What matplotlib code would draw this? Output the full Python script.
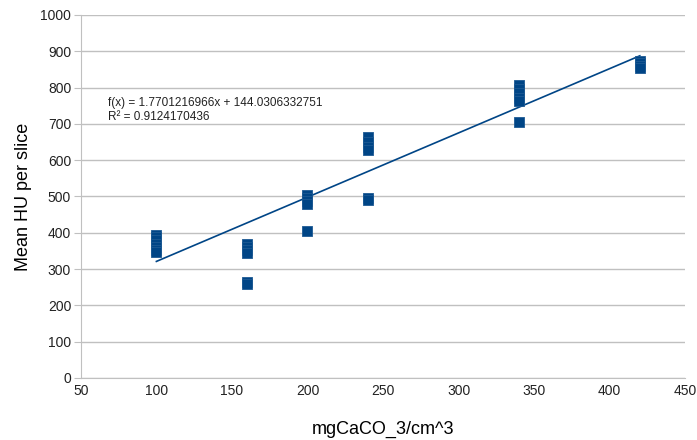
import numpy as np
import matplotlib
matplotlib.use('Agg')
import matplotlib.pyplot as plt

# concentration (mgCaCO_3/cm^3) and mean HU per slice
conc = [100, 100, 100, 100, 100, 100, 100,
        160, 160, 160, 160, 160, 160,
        200, 200, 200, 200, 200,
        240, 240, 240, 240, 240, 240,
        340, 340, 340, 340, 340, 340,
        420, 420, 420, 420]
mean_hu = [393, 388, 380, 370, 360, 352, 347,
           370, 362, 352, 343, 263, 259,
           505, 497, 487, 480, 405,
           663, 650, 637, 627, 495, 490,
           808, 797, 785, 772, 762, 705,
           874, 867, 860, 854]

slope = 1.7701216966
intercept = 144.0306332751
r_squared = 0.9124170436
fit_x = [100, 420]

COLOR = '#004586'
GRID = '#c0c0c0'

fig = plt.figure(figsize=(6.97, 4.4), dpi=100)
ax = fig.add_axes([0.116, 0.141, 0.867, 0.825])

ax.scatter(conc, mean_hu, marker='s', s=42, color=COLOR, zorder=3,
           edgecolors='#1d5a94', linewidths=0.6)
fx = np.array(fit_x)
ax.plot(fx, slope * fx + intercept, color=COLOR, linewidth=1.2, zorder=2)

ax.text(68, 757, f'f(x) = {slope:.10f}x + {intercept:.10f}', fontsize=8.5,
        color='#222222', va='center', ha='left', family='Liberation Sans')
ax.text(68, 719, f'R² = {r_squared:.10f}', fontsize=8.5,
        color='#222222', va='center', ha='left', family='Liberation Sans')

ax.set_xlim(50, 450)
ax.set_ylim(0, 1000)
ax.set_xticks(range(50, 451, 50))
ax.set_yticks(range(0, 1001, 100))
ax.yaxis.grid(True, color=GRID, linewidth=1)
ax.set_axisbelow(True)
for s in ['top', 'right']:
    ax.spines[s].set_visible(False)
for s in ['left', 'bottom']:
    ax.spines[s].set_color(GRID)
ax.tick_params(axis='y', direction='out', length=5, color=GRID, labelsize=10,
               labelcolor='#222222', pad=2)
ax.tick_params(axis='x', direction='out', length=0, color=GRID, labelsize=10,
               labelcolor='#222222', pad=4)
for lab in ax.get_xticklabels() + ax.get_yticklabels():
    lab.set_family('Liberation Sans')

ax.set_xlabel('mgCaCO_3/cm^3', fontsize=13, family='Liberation Sans', labelpad=17)
ax.set_ylabel('Mean HU per slice', fontsize=13, family='Liberation Sans', labelpad=6)

fig.savefig('out.png', dpi=100)
